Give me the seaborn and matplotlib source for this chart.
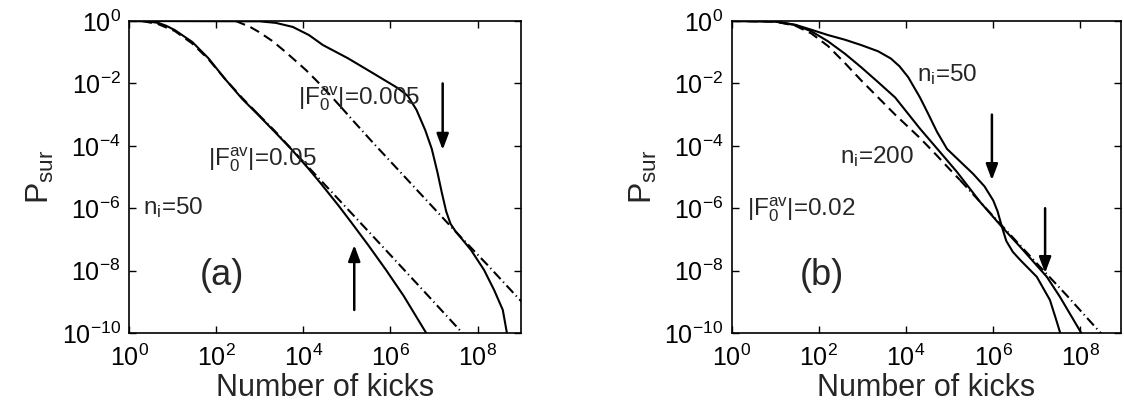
import matplotlib

matplotlib.use("Agg")
import matplotlib.pyplot as plt
import numpy as np
import pandas as pd
import seaborn as sns
from matplotlib.ticker import FixedLocator, LogFormatterSciNotation, NullLocator

# All values are log10 exponents
# panel (a): |F0| = 0.05 (left group) and 0.005 (right group), n_i = 50
a_f05_solid_x = [0.0, 0.4, 0.67, 0.85, 1.05, 1.45, 1.82, 2.2, 2.6, 2.96, 3.35, 3.74,
                 4.1, 4.41, 4.8, 5.1, 5.5, 5.9, 6.3, 6.8, 6.9]
a_f05_solid_y = [0.0, -0.01, -0.06, -0.15, -0.29, -0.67, -1.19, -1.85, -2.5, -3.0, -3.56,
                 -4.13, -4.7, -5.22, -5.9, -6.45, -7.2, -7.98, -8.8, -9.95, -10.2]
a_f05_dash_x = [0.3, 0.67, 1.05, 1.45, 1.82, 2.2, 2.6, 2.95]
a_f05_dash_y = [0.0, -0.1, -0.32, -0.72, -1.22, -1.85, -2.47, -2.97]
a_f05_dashdot_x = [2.95, 3.35, 3.74, 4.41, 5.18, 5.96, 6.73, 7.6, 7.8]
a_f05_dashdot_y = [-2.97, -3.53, -4.12, -5.12, -6.27, -7.44, -8.6, -9.92, -10.22]

a_f005_solid_x = [0.0, 3.0, 3.37, 3.76, 4.13, 4.45, 5.02, 5.55, 6.17, 6.4, 6.6, 6.8,
                  6.95, 7.08, 7.18, 7.28, 7.38, 7.5, 7.62, 7.85, 8.15, 8.38, 8.58, 8.7]
a_f005_solid_y = [0.0, -0.01, -0.06, -0.19, -0.45, -0.77, -1.19, -1.63, -2.15, -2.4,
                  -2.85, -3.5, -4.1, -4.85, -5.5, -6.1, -6.5, -6.75, -6.95, -7.34, -7.98,
                  -8.62, -9.26, -10.2]
a_f005_dash_x = [2.45, 2.78, 2.98, 3.3, 3.6, 4.06, 4.31, 4.6, 4.86]
a_f005_dash_y = [0.0, -0.19, -0.35, -0.65, -1.0, -1.57, -1.92, -2.35, -2.75]
a_f005_dashdot_x = [4.86, 5.16, 5.62, 6.2, 7.45, 8.23, 8.92, 9.05]
a_f005_dashdot_y = [-2.75, -3.22, -3.93, -4.8, -6.68, -7.82, -8.86, -9.05]

# panel (b): |F0| = 0.02, n_i = 50 and 200
b_n50_x = [0.0, 1.0, 1.46, 1.83, 2.21, 2.6, 2.97, 3.36, 3.65, 3.85, 4.05, 4.32, 4.5,
           4.71, 4.94, 5.24, 5.54, 5.8, 6.0, 6.1, 6.2, 6.3, 6.45, 6.62, 7.0, 7.3, 7.45,
           7.58]
b_n50_y = [0.0, -0.01, -0.12, -0.28, -0.45, -0.6, -0.77, -0.97, -1.2, -1.45, -1.8,
           -2.45, -2.95, -3.55, -4.1, -4.5, -4.9, -5.3, -5.75, -6.1, -6.6, -7.05, -7.4,
           -7.66, -8.2, -8.94, -9.6, -10.2]
b_n200_x = [0.0, 1.0, 1.46, 1.83, 2.21, 2.6, 2.97, 3.36, 3.75, 4.32, 4.78, 5.17, 5.7,
            6.2, 6.62, 7.23, 7.53, 8.02, 8.1]
b_n200_y = [0.0, -0.02, -0.13, -0.33, -0.65, -1.05, -1.48, -1.96, -2.45, -3.45, -4.2,
            -4.84, -5.8, -6.6, -7.24, -8.2, -8.84, -10.0, -10.2]
b_dash_x = [0.0, 1.0, 1.46, 1.83, 2.21, 2.6, 2.97, 3.36, 3.75, 4.32, 4.7, 5.0, 5.24]
b_dash_y = [0.0, -0.02, -0.15, -0.4, -0.8, -1.35, -1.9, -2.45, -3.0, -3.75, -4.3,
            -4.75, -5.1]
b_dashdot_x = [5.24, 5.7, 6.16, 7.0, 7.69, 8.4, 8.5]
b_dashdot_y = [-5.1, -5.8, -6.5, -7.77, -8.8, -9.9, -10.05]

# arrows: x, tail y, head y (log10)
a_arrow_x = [5.17, 7.2]
a_arrow_tail = [-9.26, -2.0]
a_arrow_head = [-7.18, -4.13]
b_arrow_x = [5.97, 7.19]
b_arrow_tail = [-3.0, -6.0]
b_arrow_head = [-5.1, -8.08]

x_ticks = [0, 2, 4, 6, 8]
y_ticks = [0, -2, -4, -6, -8, -10]

DASHED = (0, (4.8, 2.8))
DASHDOT = (0, (4.8, 1.8, 0.6, 1.8))

sns.set_theme(style="ticks")
plt.rcParams["font.family"] = ["Liberation Sans", "DejaVu Sans"]
plt.rcParams["mathtext.fontset"] = "custom"
plt.rcParams["mathtext.rm"] = "Liberation Sans"
plt.rcParams["mathtext.it"] = "Liberation Sans:italic"
plt.rcParams["axes.unicode_minus"] = False


def curve(ax, xs, ys, style):
    df = pd.DataFrame({"x": np.power(10.0, xs), "y": np.power(10.0, ys)})
    sns.lineplot(data=df, x="x", y="y", ax=ax, color="black", lw=1.5,
                 linestyle=style, estimator=None, sort=False)


def style_axes(ax, xmax):
    ax.set_xscale("log")
    ax.set_yscale("log")
    ax.set_xlim(1, 10 ** xmax)
    ax.set_ylim(1e-10, 1)
    ax.xaxis.set_major_locator(FixedLocator([10.0 ** t for t in x_ticks]))
    ax.yaxis.set_major_locator(FixedLocator([10.0 ** t for t in y_ticks]))
    ax.xaxis.set_minor_locator(NullLocator())
    ax.yaxis.set_minor_locator(NullLocator())
    ax.xaxis.set_major_formatter(LogFormatterSciNotation())
    ax.yaxis.set_major_formatter(LogFormatterSciNotation())
    ax.tick_params(which="major", direction="in", length=5, width=1,
                   top=True, right=True, labelsize=18, pad=6, colors="black")
    ax.tick_params(axis="x", pad=8)
    for sp in ax.spines.values():
        sp.set_visible(True)
        sp.set_linewidth(1.2)
        sp.set_color("black")
    ax.set_xlabel("Number of kicks", fontsize=22, labelpad=2)
    ax.set_ylabel(r"$\mathregular{P_{sur}}$", fontsize=23, labelpad=4)


def arrows(ax, xs, tails, heads):
    for x, t, h in zip(xs, tails, heads):
        ax.annotate("", xy=(10 ** x, 10 ** h), xytext=(10 ** x, 10 ** t),
                    arrowprops=dict(arrowstyle="-|>,head_length=0.8,head_width=0.3",
                                    color="black", lw=1.8, shrinkA=0, shrinkB=0))


fig = plt.figure(figsize=(11.24, 4.12), dpi=100)
ax_a = fig.add_axes([0.1148, 0.1917, 0.3488, 0.7573])
ax_b = fig.add_axes([0.6509, 0.1917, 0.3464, 0.7573])

# panel (a)
curve(ax_a, a_f05_solid_x, a_f05_solid_y, "-")
curve(ax_a, a_f05_dash_x, a_f05_dash_y, DASHED)
curve(ax_a, a_f05_dashdot_x, a_f05_dashdot_y, DASHDOT)
curve(ax_a, a_f005_solid_x, a_f005_solid_y, "-")
curve(ax_a, a_f005_dash_x, a_f005_dash_y, DASHED)
curve(ax_a, a_f005_dashdot_x, a_f005_dashdot_y, DASHDOT)
style_axes(ax_a, 9.0)
arrows(ax_a, a_arrow_x, a_arrow_tail, a_arrow_head)
ax_a.text(10 ** 3.88, 10 ** -2.67, r"$\mathregular{|F_0^{av}|}$=0.005", fontsize=17.5,
          va="baseline", ha="left")
ax_a.text(10 ** 1.81, 10 ** -4.62, r"$\mathregular{|F_0^{av}|}$=0.05", fontsize=17.5,
          va="baseline", ha="left")
ax_a.text(10 ** 0.32, 10 ** -6.19, r"$\mathregular{n_i}$=50", fontsize=17.5,
          va="baseline", ha="left")
ax_a.text(10 ** 1.63, 10 ** -8.15, "(a)", fontsize=26, va="center", ha="left")

# panel (b)
curve(ax_b, b_n50_x, b_n50_y, "-")
curve(ax_b, b_n200_x, b_n200_y, "-")
curve(ax_b, b_dash_x, b_dash_y, DASHED)
curve(ax_b, b_dashdot_x, b_dashdot_y, DASHDOT)
style_axes(ax_b, 8.93)
arrows(ax_b, b_arrow_x, b_arrow_tail, b_arrow_head)
ax_b.text(10 ** 4.25, 10 ** -1.92, r"$\mathregular{n_i}$=50", fontsize=17.5,
          va="baseline", ha="left")
ax_b.text(10 ** 2.49, 10 ** -4.55, r"$\mathregular{n_i}$=200", fontsize=17.5,
          va="baseline", ha="left")
ax_b.text(10 ** 0.35, 10 ** -6.22, r"$\mathregular{|F_0^{av}|}$=0.02", fontsize=17.5,
          va="baseline", ha="left")
ax_b.text(10 ** 1.57, 10 ** -8.15, "(b)", fontsize=26, va="center", ha="left")

fig.savefig("out.png", dpi=100, facecolor="white")
plt.close(fig)
